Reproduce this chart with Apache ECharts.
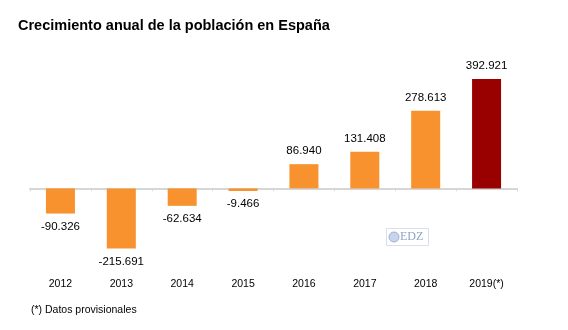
<!DOCTYPE html>
<html>
<head>
<meta charset="utf-8">
<style>html,body{margin:0;padding:0;background:#fff;}#chart{width:568px;height:330px;}</style>
<script src="https://cdn.jsdelivr.net/npm/echarts@6/dist/echarts.min.js"></script>
</head>
<body>
<div id="chart"></div>
<script>
var categories = ['2012', '2013', '2014', '2015', '2016', '2017', '2018', '2019(*)'];
var values = [-90326, -215691, -62634, -9466, 86940, 131408, 278613, 392921];
var barColors = ['#F7922E', '#F7922E', '#F7922E', '#F7922E', '#F7922E', '#F7922E', '#F7922E', '#990000'];
var titleText = 'Crecimiento anual de la población en España';
var footnoteText = '(*) Datos provisionales';

function fmt(v) {
  var s = Math.abs(v).toString().replace(/\B(?=(\d{3})+(?!\d))/g, '.');
  return (v < 0 ? '-' : '') + s;
}

var chart = echarts.init(document.getElementById('chart'));
var font = 'Liberation Sans, Arial, sans-serif';
chart.setOption({
  animation: false,
  textStyle: { fontFamily: font },
  title: {
    text: titleText, left: 13, top: 13,
    textStyle: { fontSize: 14.5, fontWeight: 'bold', color: '#000', fontFamily: font }
  },
  grid: { left: 30, right: 51, top: 77, bottom: 72 },
  xAxis: [
    {
      type: 'category', data: categories, position: 'bottom',
      axisLine: { show: false, onZero: false }, axisTick: { show: false },
      axisLabel: { margin: 21, fontSize: 10.5, color: '#000', fontFamily: font }
    },
    {
      type: 'category', data: categories, position: 'bottom',
      axisLine: { show: true, onZero: true, lineStyle: { color: '#d6d6d6', width: 2 } },
      axisTick: { show: true, length: 3, lineStyle: { color: '#d6d6d6', width: 1 } },
      axisLabel: { show: false }
    }
  ],
  yAxis: { type: 'value', min: -250000, max: 400000, show: false, splitLine: { show: false } },
  series: [{
    type: 'bar', barWidth: 29, xAxisIndex: 0,
    data: values.map(function (v, i) {
      return {
        value: v,
        itemStyle: { color: barColors[i] },
        label: { position: v < 0 ? 'bottom' : 'top' }
      };
    }),
    label: {
      show: true, distance: 7, fontSize: 11.5, color: '#000', fontFamily: font,
      formatter: function (p) { return fmt(p.value); }
    }
  }],
  graphic: [
    { type: 'text', left: 31, top: 305, style: { text: footnoteText, fontSize: 10.5, fill: '#000', fontFamily: font } },
    { type: 'rect', shape: { x: 386.5, y: 228.5, width: 42, height: 17 }, style: { fill: '#fff', stroke: '#d8e0ee', lineWidth: 1 } },
    { type: 'circle', shape: { cx: 394, cy: 237, r: 5 }, style: { fill: '#c8d4ea', stroke: '#9fb1d4', lineWidth: 1 } },
    { type: 'text', left: 400, top: 231, style: { text: 'EDZ', fontSize: 12, fill: '#8fa3c9', fontFamily: 'Liberation Serif, serif' } }
  ]
});
</script>
</body>
</html>
